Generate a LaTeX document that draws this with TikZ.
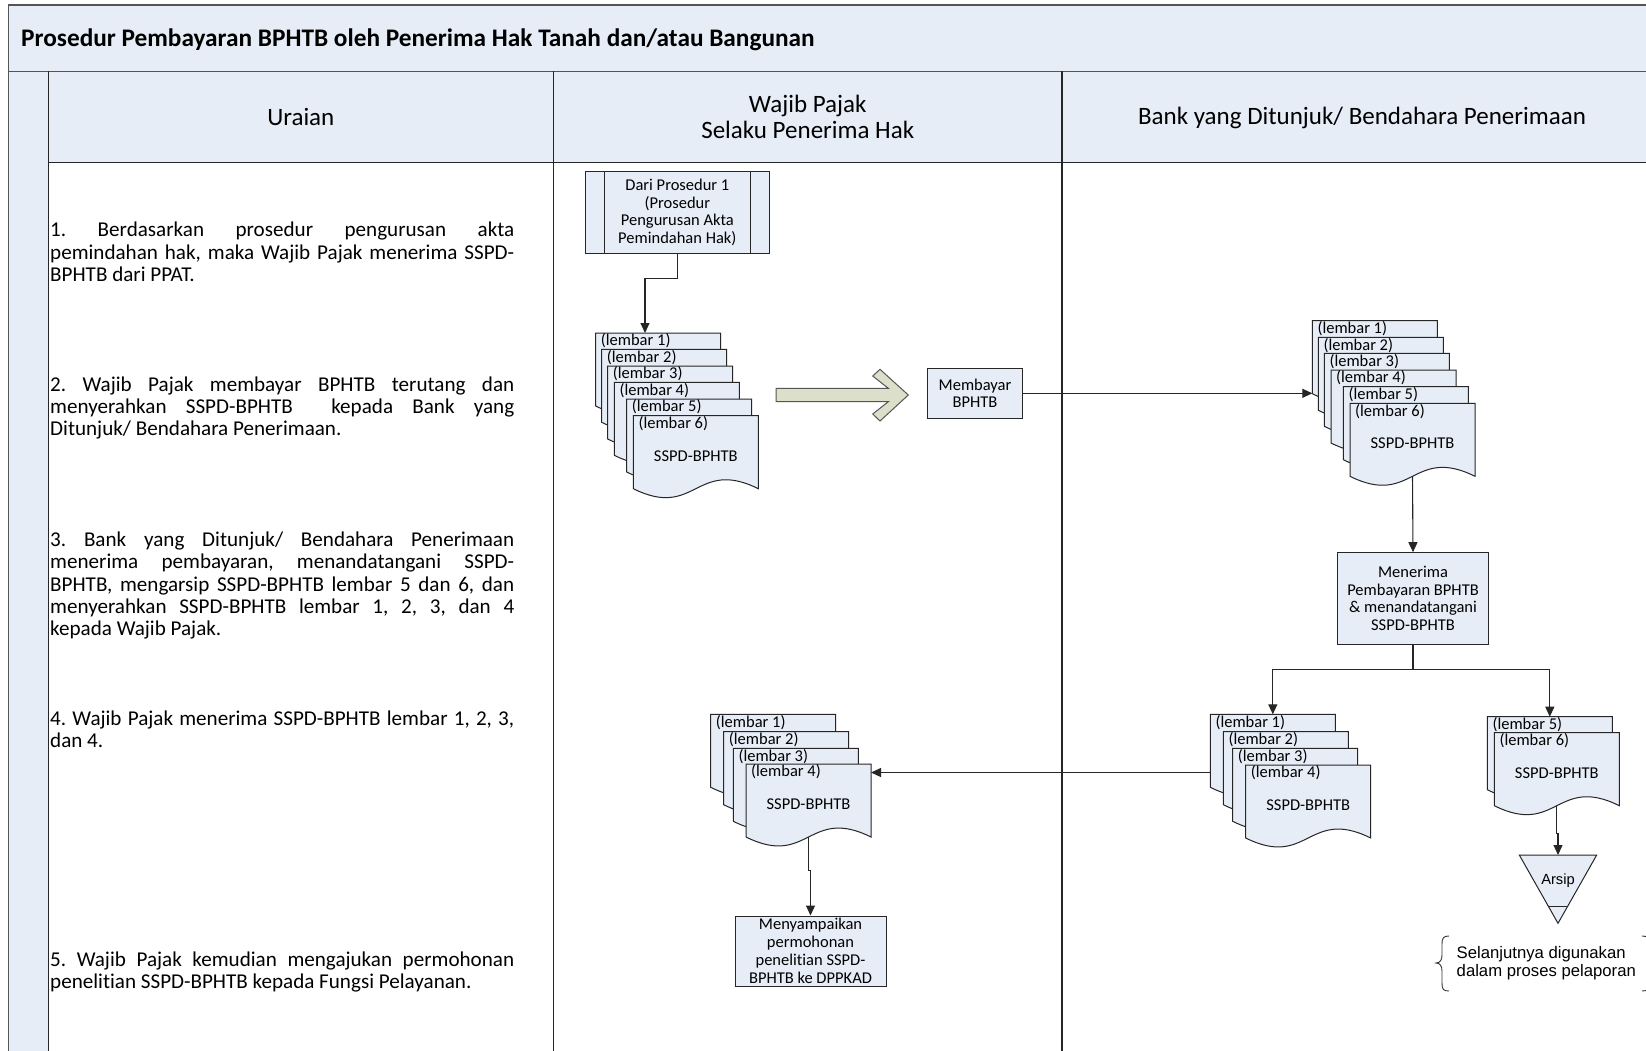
\documentclass[tikz,border=0pt]{standalone}
\usepackage{fontspec}
\setmainfont[Ligatures=NoCommon]{Carlito}
\newfontfamily\arialfont{Liberation Sans}
\usetikzlibrary{arrows.meta,calc}
\frenchspacing
\definecolor{paleblue}{RGB}{230,237,247}
\definecolor{olivefill}{RGB}{220,223,202}
\definecolor{framegray}{RGB}{85,85,85}
\newcommand\boxfont{\fontsize{16.5}{17.8}\selectfont}
\newcommand\bodyfont{\fontsize{21.1}{22.3}\selectfont}
\newcommand\headfont{\fontsize{25}{26}\selectfont}
\newcommand\jline[1]{\makebox[464pt][s]{#1}}
\newcommand\docsheet[4]{%
  \node[sheetbase] (#1) at (#2,#3) {};
  \filldraw[sheetline] (#1.north west) -- (#1.north east) -- (#1.south east)
    .. controls ($(#1.south)+(0,-31)$) and ($(#1.south)+(0,31)$) .. (#1.south west) -- cycle;
  \node[lbl, anchor=west] (#1-l) at ($(#1.north west)+(5,8)$) {#4};
}
\newcommand\sheettitle[1]{\node[lbl] (#1-t) at ($(#1.north)+(0,40)$) {SSPD-BPHTB};}
\begin{document}
\begin{tikzpicture}[x=1pt,y=-1pt,
  frameline/.style={draw=framegray, line width=1.8pt},
  divline/.style={draw=black!85, line width=1.4pt},
  box/.style={draw=black!85, fill=paleblue, line width=1pt, align=center, font=\boxfont, inner sep=0pt},
  boxline/.style={draw=black!85, line width=1pt},
  sheetbase/.style={draw=none, inner sep=0pt, outer sep=0pt, minimum width=125pt, minimum height=73pt, anchor=north west},
  sheetline/.style={draw=black!85, fill=paleblue, line width=1pt},
  lbl/.style={font=\boxfont, inner sep=0pt},
  conn/.style={draw=black!85, line width=1.1pt, -{Triangle[length=10pt,width=9pt]}},
  item/.style={font=\bodyfont, align=left, inner sep=0pt, anchor=north west}]
\useasboundingbox (0,0) rectangle (1646,1050);
\fill[white] (0,0) rectangle (1646,1050);
% swimlane frame
\fill[paleblue] (8.4,5.3) rectangle (1720,71.4);
\fill[paleblue] (8.4,71.4) rectangle (48.3,1100);
\fill[paleblue] (48.3,71.4) rectangle (1720,162.7);
\draw[frameline] (1720,5.3) -- (8.4,5.3) -- (8.4,1100);
\draw[frameline] (8.4,71.4) -- (1720,71.4);
\draw[divline] (48.3,71.4) -- (48.3,1100);
\draw[divline] (48.3,162.7) -- (1720,162.7);
\draw[divline] (553.4,71.4) -- (553.4,1100);
\draw[divline] (1062,71.4) -- (1062,1100);
% title and headers
\node[anchor=west, inner sep=0pt, font=\fontsize{25.3}{30}\selectfont\bfseries] (title) at (21,40)
  {Prosedur Pembayaran BPHTB oleh Penerima Hak Tanah dan/atau Bangunan};
\node[font=\headfont] (h1) at (300.8,116.5) {Uraian};
\node[font=\headfont, align=center] (h2) at (807.7,117) {Wajib Pajak\\Selaku Penerima Hak};
\node[font=\headfont] (h3) at (1362,117.5) {Bank yang Ditunjuk/ Bendahara Penerimaan};
% uraian texts
\node[item] (u1) at (50,222) {\jline{1. Berdasarkan prosedur pengurusan akta}\\
  \jline{pemindahan hak, maka Wajib Pajak menerima SSPD-}\\BPHTB dari PPAT.};
\node[item] (u2) at (50,376.3) {\jline{2. Wajib Pajak membayar BPHTB terutang dan}\\
  \jline{menyerahkan SSPD-BPHTB\ \ kepada Bank yang}\\Ditunjuk/ Bendahara Penerimaan.};
\node[item] (u3) at (50,531.7) {\jline{3. Bank yang Ditunjuk/ Bendahara Penerimaan}\\
  \jline{menerima pembayaran, menandatangani SSPD-}\\
  \jline{BPHTB, mengarsip SSPD-BPHTB lembar 5 dan 6, dan}\\
  \jline{menyerahkan SSPD-BPHTB lembar 1, 2, 3, dan 4}\\kepada Wajib Pajak.};
\node[item] (u4) at (50,710.2) {\jline{4. Wajib Pajak menerima SSPD-BPHTB lembar 1, 2, 3,}\\dan 4.};
\node[item] (u5) at (50,951.7) {\jline{5. Wajib Pajak kemudian mengajukan permohonan}\\
  penelitian SSPD-BPHTB kepada Fungsi Pelayanan.};
% process boxes
\node[box, minimum width=183.3pt, minimum height=81.3pt] (proc1) at (677.35,212.35)
  {Dari Prosedur 1\\(Prosedur\\Pengurusan Akta\\Pemindahan Hak)};
\draw[boxline] ([xshift=19pt]proc1.north west) -- ([xshift=19pt]proc1.south west);
\draw[boxline] ([xshift=-19pt]proc1.north east) -- ([xshift=-19pt]proc1.south east);
\node[box, minimum width=94.6pt, minimum height=50pt] (pay) at (975,393.3) {Membayar\\BPHTB};
\node[box, minimum width=150.6pt, minimum height=91.3pt] (recv) at (1413,598.35)
  {Menerima\\Pembayaran BPHTB\\\& menandatangani\\SSPD-BPHTB};
\node[box, minimum width=151pt, minimum height=70pt] (send) at (810.5,951)
  {Menyampaikan\\permohonan\\penelitian SSPD-\\BPHTB ke DPPKAD};
% stack A (wajib pajak, 6 sheets)
\docsheet{A1}{595.7}{333}{(lembar 1)}
\docsheet{A2}{601.7}{349.3}{(lembar 2)}
\docsheet{A3}{607.7}{366}{(lembar 3)}
\docsheet{A4}{614.3}{382.3}{(lembar 4)}
\docsheet{A5}{626.7}{399}{(lembar 5)}
\docsheet{A6}{633.3}{415.7}{(lembar 6)}
\sheettitle{A6}
% block arrow
\filldraw[fill=olivefill, draw=framegray, line width=1pt] (776,388.3) -- (888.3,388.3) -- (872.7,376)
  -- (880,369.3) -- (908.3,395) -- (880,421) -- (872.7,414) -- (888.3,401.7) -- (776,401.7) -- cycle;
% stack B (bank, 6 sheets)
\docsheet{B1}{1312.3}{320.7}{(lembar 1)}
\docsheet{B2}{1318.3}{337.3}{(lembar 2)}
\docsheet{B3}{1324.3}{353.3}{(lembar 3)}
\docsheet{B4}{1331}{370}{(lembar 4)}
\docsheet{B5}{1343.3}{386.7}{(lembar 5)}
\docsheet{B6}{1350}{403.3}{(lembar 6)}
\sheettitle{B6}
% stack C (bank, sheets 1-4)
\docsheet{C1}{1210.3}{714.3}{(lembar 1)}
\docsheet{C2}{1223.3}{731.7}{(lembar 2)}
\docsheet{C3}{1232.7}{748.3}{(lembar 3)}
\docsheet{C4}{1245.7}{765}{(lembar 4)}
\sheettitle{C4}
% stack D (bank, sheets 5-6)
\docsheet{D1}{1487.3}{716.7}{(lembar 5)}
\docsheet{D2}{1494.3}{732.7}{(lembar 6)}
\sheettitle{D2}
% stack E (wajib pajak, sheets 1-4)
\docsheet{E1}{710.7}{714.3}{(lembar 1)}
\docsheet{E2}{723.7}{731.7}{(lembar 2)}
\docsheet{E3}{733.3}{748.3}{(lembar 3)}
\docsheet{E4}{746}{764}{(lembar 4)}
\sheettitle{E4}
% archive triangle
\node[draw=none, inner sep=0pt, outer sep=0pt, minimum width=77.4pt, minimum height=68.3pt] (arsip) at (1558,889.15) {};
\filldraw[sheetline] (arsip.north west) -- (arsip.north east) -- (arsip.south) -- cycle;
\draw[boxline] (1548.5,906) -- (1568.1,906);
\node[inner sep=0pt, font=\arialfont\fontsize{14.7}{16}\selectfont] (arsipt) at (1558,881) {Arsip};
% note with braces
\draw[black!80, line width=0.9pt] (1449,936) .. controls (1443,936) and (1442,938) .. (1442,945) -- (1442,955)
  .. controls (1442,960) and (1440,963) .. (1436,963) .. controls (1440,963) and (1442,966) .. (1442,971)
  -- (1442,983) .. controls (1442,989) and (1443,991) .. (1449,991);
\draw[black!80, line width=0.9pt] (1642,936) .. controls (1648,936) and (1649,938) .. (1649,945) -- (1649,983)
  .. controls (1649,989) and (1648,991) .. (1642,991);
\node[anchor=west, inner sep=0pt, align=left, font=\arialfont\fontsize{16.7}{18.6}\selectfont] (note) at (1456.5,963)
  {Selanjutnya digunakan\\dalam proses pelaporan};
% connectors
\coordinate (A1in) at (645,333);
\draw[conn] (proc1.south) -- ++(0,25.3) -| (A1in);
\draw[conn] (pay.east) -- (pay.east -| B1.west);
\draw[conn] (B6.south) -- (recv.north);
\draw[conn] (recv.south) -- ++(0,24.7) -| (C1.north);
\draw[conn] (recv.south) -- ++(0,24.7) -| (D1.north);
\coordinate (cout) at (1210.3,772.5);
\draw[conn] (cout) -- (cout -| E4.east);
\draw[conn] (E4.south) -- ++(0,33.7) -| (send.north);
\draw[conn] (D2.south) -- ++(0,28) -| (arsip.north);
\end{tikzpicture}
\end{document}
